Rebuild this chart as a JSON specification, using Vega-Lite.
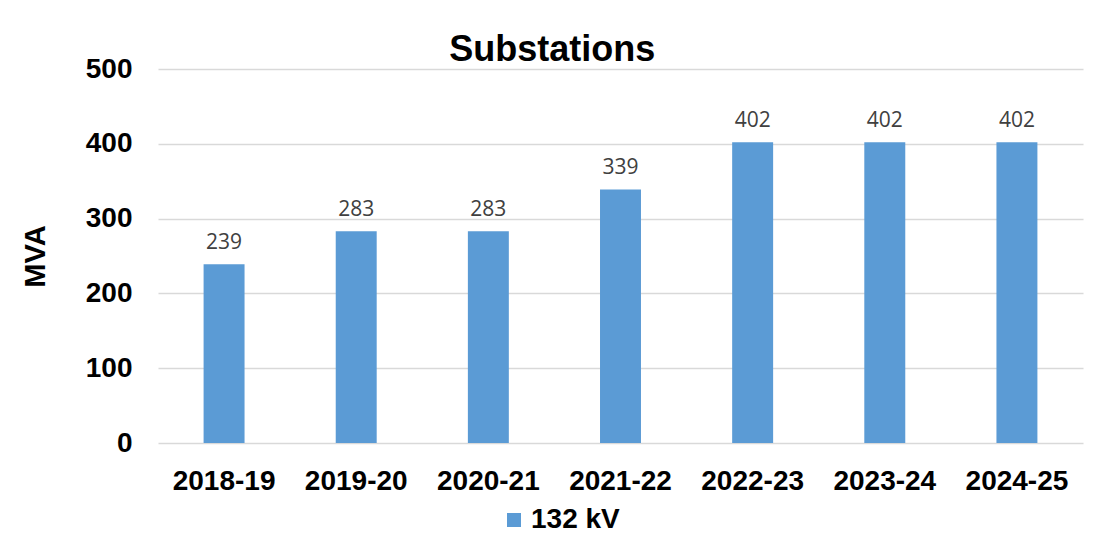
{
  "$schema": "https://vega.github.io/schema/vega-lite/v6.json",
  "autosize": "none",
  "width": 925,
  "height": 374,
  "padding": {"left": 158, "top": 69, "right": 25, "bottom": 109},
  "background": "white",
  "title": {"text": "Substations", "fontSize": 36, "font": "Liberation Sans", "fontWeight": "bold", "color": "#000000", "frame": "bounds", "anchor": "middle", "offset": -14},
  "data": {"values": [
    {"year": "2018-19", "mva": 239, "series": "132 kV"},
    {"year": "2019-20", "mva": 283, "series": "132 kV"},
    {"year": "2020-21", "mva": 283, "series": "132 kV"},
    {"year": "2021-22", "mva": 339, "series": "132 kV"},
    {"year": "2022-23", "mva": 402, "series": "132 kV"},
    {"year": "2023-24", "mva": 402, "series": "132 kV"},
    {"year": "2024-25", "mva": 402, "series": "132 kV"}
  ]},
  "encoding": {
    "x": {"field": "year", "type": "nominal", "sort": null,
      "scale": {"paddingInner": 0.69, "paddingOuter": 0.345},
      "axis": {"title": null, "labelAngle": 0, "labelFont": "Liberation Sans", "labelFontSize": 28, "labelFontWeight": "bold", "labelColor": "#000000", "labelPadding": 24, "ticks": false, "domain": false, "grid": false}},
    "y": {"field": "mva", "type": "quantitative",
      "scale": {"domain": [0, 500], "nice": false},
      "axis": {"title": "MVA", "titleFont": "Liberation Sans", "titleFontSize": 29, "titleFontWeight": "bold", "titleColor": "#000000", "titlePadding": 35, "values": [0, 100, 200, 300, 400, 500], "labelFont": "Liberation Sans", "labelFontSize": 28, "labelFontWeight": "bold", "labelColor": "#000000", "labelPadding": 26, "ticks": false, "domain": false, "grid": true, "gridColor": "#d9d9d9", "gridWidth": 1.5}}
  },
  "layer": [
    {"mark": {"type": "bar", "color": "#5B9BD5"},
     "encoding": {"color": {"field": "series", "type": "nominal", "scale": {"range": ["#5B9BD5"]},
       "legend": {"title": null, "orient": "none", "legendX": 342, "legendY": 437, "symbolType": "square", "symbolSize": 196, "labelFont": "Liberation Sans", "labelFontSize": 28, "labelFontWeight": "bold", "labelColor": "#000000", "labelOffset": 3, "symbolStrokeWidth": 0, "padding": 0}}}},
    {"mark": {"type": "text", "dy": -15, "baseline": "alphabetic", "font": "Open Sans", "fontSize": 21, "color": "#404040"},
     "encoding": {"text": {"field": "mva", "type": "quantitative"}}}
  ],
  "config": {"view": {"stroke": null}}
}
